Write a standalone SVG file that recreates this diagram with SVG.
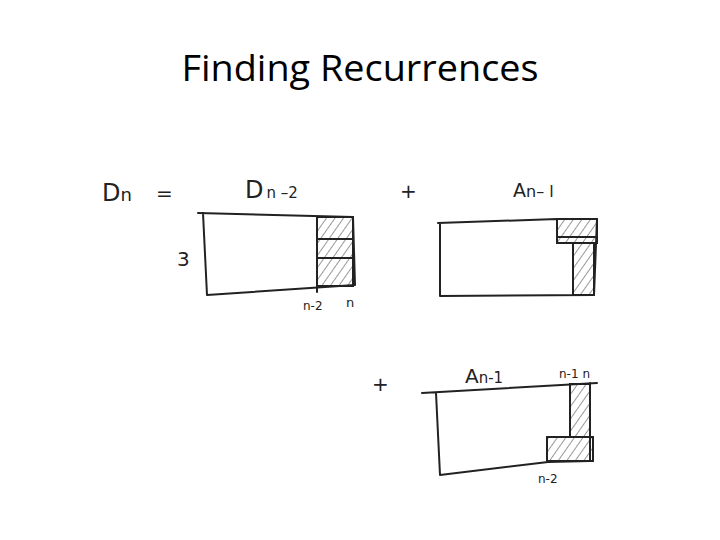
<svg xmlns="http://www.w3.org/2000/svg" width="720" height="540" viewBox="0 0 720 540">
<style>
.t{font-family:"Open Sans","Liberation Sans",sans-serif;fill:#000}
.h{font-family:"DejaVu Sans","Liberation Sans",sans-serif;fill:#222}
.ln{fill:none;stroke:#222;stroke-width:2;stroke-linecap:round;stroke-linejoin:round}
.ht{fill:url(#hatch);stroke:#222;stroke-width:2}
</style>
<defs>
<pattern id="hatch" patternUnits="userSpaceOnUse" width="7" height="7" patternTransform="rotate(35)">
<line x1="0" y1="0" x2="0" y2="7" stroke="#444" stroke-width="1.1"/>
</pattern>
</defs>
<rect width="720" height="540" fill="#fff"/>
<text class="t" x="360" y="81" font-size="36" text-anchor="middle" textLength="357" lengthAdjust="spacingAndGlyphs">Finding Recurrences</text>

<g id="panel-dn">
<text class="h" x="102" y="201" font-size="24">D<tspan font-size="18">n</tspan></text>
<text class="h" x="156" y="200" font-size="20">=</text>
<text class="h" x="245" y="198" font-size="24">D<tspan font-size="15" dx="3">n –2</tspan></text>
<rect class="ht" x="317" y="217" width="36" height="22"/>
<rect class="ht" x="317" y="239" width="36" height="19"/>
<rect class="ht" x="317" y="258" width="36" height="28"/>
<path class="ln" d="M198,213 L353,217 L355,285 L207,295 L203,213"/>
<path class="ln" d="M317,217 L317,292"/>
<text class="h" x="177" y="266" font-size="20">3</text>
<text class="h" x="303" y="310" font-size="12">n-2</text>
<text class="h" x="346" y="307" font-size="13">n</text>
</g>

<g id="panel-a1">
<text class="h" x="400" y="198" font-size="20">+</text>
<text class="h" x="513" y="197" font-size="19">A<tspan font-size="16">n– l</tspan></text>
<rect class="ht" x="557" y="219" width="40" height="24"/>
<path class="ln" d="M557,237 L597,237"/>
<rect class="ht" x="573" y="243" width="21" height="52"/>
<path class="ln" d="M438,223 L557,219 L557,243 L573,243 M557,219 L597,219 L594,295 L440,296 L440,223"/>
</g>

<g id="panel-a2">
<text class="h" x="372" y="391" font-size="20">+</text>
<text class="h" x="465" y="383" font-size="20">A<tspan font-size="15">n-1</tspan></text>
<text class="h" x="559" y="378" font-size="12">n-1 n</text>
<rect class="ht" x="570" y="384" width="20" height="53"/>
<rect class="ht" x="547" y="437" width="46" height="24"/>
<path class="ln" d="M422,393 L597,383 M590,383 L590,461 L548,462 L440,475 L436,393"/>
<text class="h" x="538" y="483" font-size="12">n-2</text>
</g>
</svg>
